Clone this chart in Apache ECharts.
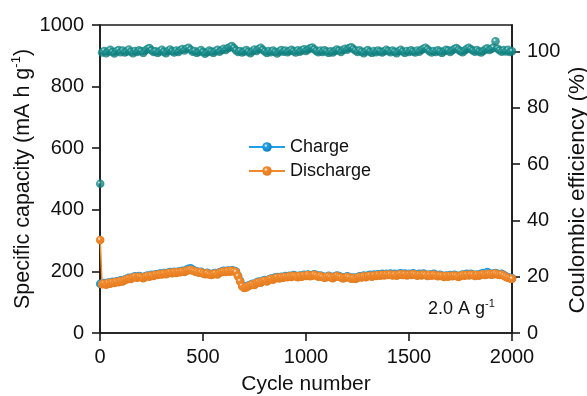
<!DOCTYPE html>
<html><head><meta charset="utf-8">
<script src="https://cdn.jsdelivr.net/npm/echarts@6/dist/echarts.min.js"></script>
<style>html,body{margin:0;padding:0;background:#fff}#c{width:587px;height:396px}</style>
</head><body><div id="c"></div>
<script>
const cycles = [1,10,20,30,40,50,60,70,80,90,100,110,120,130,140,150,160,170,180,190,200,210,220,230,240,250,260,270,280,290,300,310,320,330,340,350,360,370,380,390,400,410,420,430,440,450,460,470,480,490,500,510,520,530,540,550,560,570,580,590,600,610,620,630,640,650,660,670,680,690,700,710,720,730,740,750,760,770,780,790,800,810,820,830,840,850,860,870,880,890,900,910,920,930,940,950,960,970,980,990,1000,1010,1020,1030,1040,1050,1060,1070,1080,1090,1100,1110,1120,1130,1140,1150,1160,1170,1180,1190,1200,1210,1220,1230,1240,1250,1260,1270,1280,1290,1300,1310,1320,1330,1340,1350,1360,1370,1380,1390,1400,1410,1420,1430,1440,1450,1460,1470,1480,1490,1500,1510,1520,1530,1540,1550,1560,1570,1580,1590,1600,1610,1620,1630,1640,1650,1660,1670,1680,1690,1700,1710,1720,1730,1740,1750,1760,1770,1780,1790,1800,1810,1820,1830,1840,1850,1860,1870,1880,1890,1900,1910,1920,1930,1940,1950,1960,1970,1980,1990,2000];

const discharge = [302,158,160,157,162,160,164,162,166,165,
169,167,172,174,177,175,180,182,179,183,
181,178,182,185,183,187,185,189,188,191,
190,193,191,194,196,194,197,195,198,197,
200,198,202,204,205,202,200,198,196,197,
193,191,194,190,188,191,193,190,195,198,
200,198,201,199,202,200,198,184,168,152,
146,148,152,155,158,156,162,165,163,168,
170,167,172,175,173,178,180,177,181,179,
183,181,184,182,186,184,181,185,183,187,
185,188,184,186,189,186,183,185,182,179,
181,184,181,178,182,185,183,180,177,179,
182,180,176,178,175,179,182,180,184,181,
184,186,183,187,185,188,186,189,187,190,
188,190,187,189,186,189,191,188,190,187,
190,188,191,189,186,189,187,190,188,185,
188,186,189,187,184,187,185,182,185,183,
186,184,187,185,182,185,188,186,189,187,
190,188,185,188,186,189,191,188,190,192,
189,191,193,190,188,190,186,182,179,177,
176];

const charge = [160,160,162,159,164,162,166,164,168,167,
171,169,174,176,179,177,182,184,181,185,
183,180,184,187,185,189,187,191,190,193,
192,195,193,196,198,196,199,197,200,199,
202,200,205,209,210,205,202,200,198,199,
195,193,196,192,190,193,195,192,197,200,
202,200,203,201,204,202,200,186,170,154,
148,150,154,157,160,158,164,167,165,170,
172,169,174,177,175,180,182,179,183,181,
185,183,186,184,188,186,183,187,185,189,
187,190,186,188,191,188,185,187,184,181,
183,186,183,180,184,187,185,182,179,181,
184,182,178,180,177,181,184,182,187,183,
187,189,185,190,187,191,188,192,189,192,
191,193,189,192,188,192,194,190,193,189,
192,191,194,191,188,192,189,193,190,187,
190,188,192,189,186,189,187,184,187,185,
188,186,189,187,184,187,190,188,192,189,
192,190,187,190,188,192,195,190,198,194,
191,193,195,192,190,192,188,184,181,179,
178];

const efficiency = [53.0,99.6,100.2,99.4,100.0,100.6,99.8,99.3,100.1,100.5,
99.7,100.3,99.6,100.0,100.7,99.9,99.4,100.2,99.8,100.4,
100.1,99.5,100.3,100.9,101.2,100.4,99.8,100.1,99.5,100.0,
100.6,99.9,99.4,100.2,100.7,100.1,99.6,100.3,99.8,100.4,
100.9,100.3,101.0,101.3,100.6,99.9,100.2,99.5,99.9,100.5,
99.8,99.2,99.7,100.3,100.0,99.5,100.1,100.6,99.9,100.4,
101.0,100.5,101.1,101.5,101.9,101.2,100.4,99.8,100.2,99.6,
100.0,100.5,99.9,99.4,100.1,100.7,100.2,100.8,101.3,100.6,
100.0,99.5,100.2,99.7,100.3,99.8,99.3,100.0,100.5,99.9,
100.3,99.7,100.2,100.6,100.1,99.6,100.4,99.9,100.3,100.8,
100.2,100.7,101.1,101.4,100.8,100.2,99.7,100.3,99.8,100.4,
100.0,99.5,100.1,99.6,100.2,100.7,100.3,99.8,100.5,101.0,
100.6,101.2,101.5,100.9,100.3,99.8,100.4,99.9,99.4,100.0,
100.5,99.9,99.5,100.2,99.7,100.3,100.0,99.6,100.1,100.6,
100.2,99.7,100.3,99.9,99.4,100.1,100.6,100.0,99.5,100.2,
99.8,100.4,100.0,99.6,100.3,99.9,100.5,101.0,101.3,100.7,
100.1,99.6,100.2,99.8,100.4,100.0,99.5,100.1,100.6,100.3,
99.8,100.4,100.9,101.2,100.6,100.1,99.7,100.3,100.9,101.3,
100.8,100.3,99.9,100.5,100.0,99.6,100.2,100.7,101.1,100.5,
100.9,101.4,103.6,101.0,100.4,99.9,100.5,100.0,100.6,99.8,
100.1];

const xTicks = [0,500,1000,1500,2000];
const leftTicks = [0,200,400,600,800,1000];
const rightTicks = [0,20,40,60,80,100];

const FONT = '"Liberation Sans", Arial, sans-serif';
const TXT = '#111111';
const plain = v => String(v);

function ball(base, dark) {
  return {type:'radial', x:0.38, y:0.35, r:0.62,
    colorStops:[{offset:0,color:'#ffffff'},{offset:0.3,color:base},{offset:1,color:dark}]};
}
function pairs(ys){ return cycles.map((c,i)=>[c, ys[i]]); }

const chart = echarts.init(document.getElementById('c'), null, {renderer:'canvas'});
chart.setOption({
  animation:false,
  backgroundColor:'#ffffff',
  grid:{left:100, right:75, top:25, bottom:63, outerBoundsMode:'none', containLabel:false,
    show:true, borderColor:'#1a1a1a', borderWidth:1.6, backgroundColor:'transparent'},
  legend:{
    data:['Charge','Discharge'], orient:'vertical', left:248, top:137, padding:0,
    itemWidth:36, itemHeight:12, itemGap:4,
    textStyle:{fontFamily:FONT, fontSize:18, color:TXT, lineHeight:20}
  },
  xAxis:{
    type:'value', min:0, max:2000, interval:500,
    axisLine:{show:true, lineStyle:{color:'#1a1a1a', width:1.6}},
    axisTick:{show:true, inside:false, length:8, lineStyle:{color:'#1a1a1a', width:1.6}},
    axisLabel:{fontFamily:FONT, fontSize:20, color:TXT, margin:14, formatter:plain,
      customValues: xTicks},
    splitLine:{show:false},
    name:'Cycle number', nameLocation:'middle', nameGap:41, nameMoveOverlap:false,
    nameTextStyle:{fontFamily:FONT, fontSize:21, color:TXT}
  },
  yAxis:[{
    type:'value', min:0, max:1000, interval:200, position:'left',
    axisLine:{show:true, lineStyle:{color:'#1a1a1a', width:1.6}},
    axisTick:{show:true, length:8, lineStyle:{color:'#1a1a1a', width:1.6}},
    axisLabel:{fontFamily:FONT, fontSize:20, color:TXT, margin:16, formatter:plain, customValues: leftTicks},
    splitLine:{show:false},
    name:'Specific capacity (mA h g{sup|-1})', nameLocation:'middle', nameGap:64, nameRotate:90, nameMoveOverlap:false,
    nameTextStyle:{fontFamily:FONT, fontSize:21.5, color:TXT, lineHeight:26,
      rich:{sup:{fontFamily:FONT, fontSize:13, color:TXT, lineHeight:13, verticalAlign:'top'}}}
  },{
    type:'value', min:0, max:109.4, position:'right', alignTicks:false,
    axisLine:{show:true, lineStyle:{color:'#1a1a1a', width:1.6}},
    axisTick:{show:true, length:8, lineStyle:{color:'#1a1a1a', width:1.6}, customValues: rightTicks},
    axisLabel:{fontFamily:FONT, fontSize:20, color:TXT, margin:15, formatter:plain, customValues: rightTicks},
    splitLine:{show:false},
    name:'Coulombic efficiency (%)', nameLocation:'middle', nameGap:54, nameRotate:90, nameMoveOverlap:false,
    nameTextStyle:{fontFamily:FONT, fontSize:22.5, color:TXT, padding:[0,22,0,0]}
  }],
  series:[{
    name:'Charge', type:'line', yAxisIndex:0, data:pairs(charge),
    symbol:'circle', symbolSize:8.5, showAllSymbol:true,
    itemStyle:{color:ball('#22a0e6','#1482c4')},
    lineStyle:{color:'#22a0e6', width:1.5}, z:2
  },{
    name:'Discharge', type:'line', yAxisIndex:0, data:pairs(discharge),
    symbol:'circle', symbolSize:8.5, showAllSymbol:true,
    itemStyle:{color:ball('#f08a2c','#e57c1f')},
    lineStyle:{color:'#f08a2c', width:1.5}, z:3
  },{
    name:'Coulombic efficiency', type:'scatter', yAxisIndex:1, data:pairs(efficiency),
    symbol:'circle', symbolSize:8.5,
    itemStyle:{color:ball('#17908e','#0e7877')}, z:2
  }],
  graphic:[{
    type:'text', left:428, top:298,
    style:{text:'2.0 A g{sup|-1}', fontFamily:FONT, fontSize:18, fill:TXT, lineHeight:22,
      rich:{sup:{fontFamily:FONT, fontSize:11, fill:TXT, lineHeight:11, verticalAlign:'top'}}}
  }]
});
</script></body></html>
